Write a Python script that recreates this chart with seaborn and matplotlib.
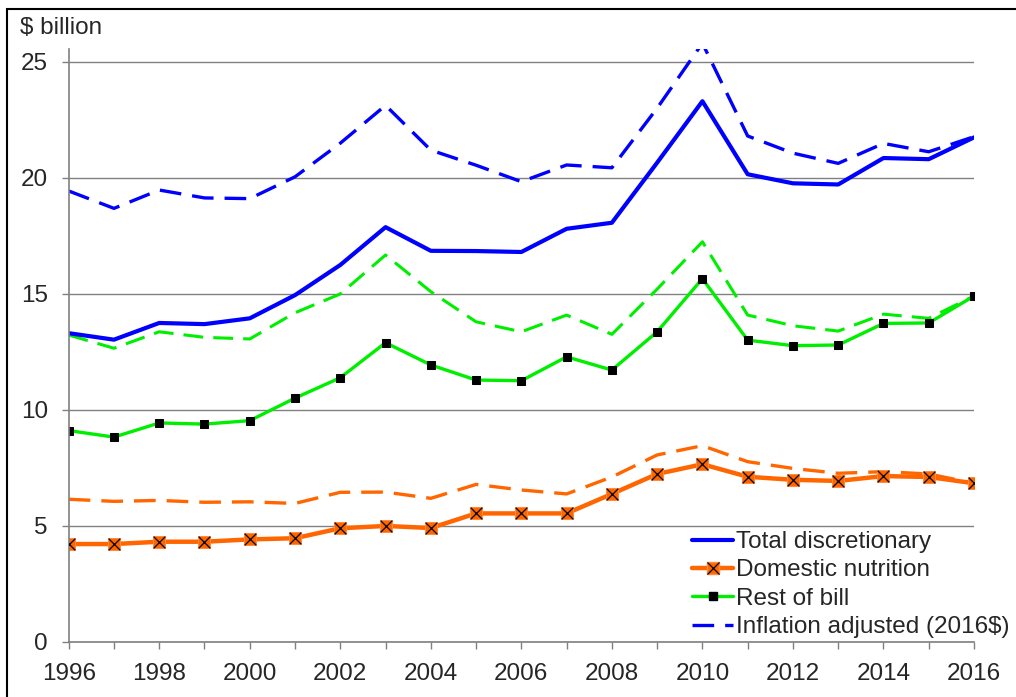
import numpy as np
import pandas as pd
import seaborn as sns
import matplotlib.pyplot as plt
from matplotlib.patches import Rectangle
from matplotlib.lines import Line2D
from matplotlib.legend_handler import HandlerTuple

years = list(range(1996, 2017))

total = [13.3, 13.02, 13.74, 13.69, 13.94, 14.94, 16.24, 17.87, 16.85, 16.84, 16.8,
         17.8, 18.06, 20.65, 23.3, 20.15, 19.76, 19.71, 20.85, 20.8, 21.74]
total_adj = [19.43, 18.68, 19.47, 19.13, 19.1, 20.04, 21.49, 23.12, 21.19, 20.54, 19.83,
             20.55, 20.43, 23.0, 25.8, 21.8, 21.06, 20.62, 21.48, 21.12, 21.77]
rest = [9.1, 8.82, 9.43, 9.38, 9.53, 10.5, 11.38, 12.89, 11.93, 11.28, 11.25,
        12.28, 11.71, 13.36, 15.65, 13.0, 12.76, 12.79, 13.72, 13.74, 14.9]
rest_adj = [13.22, 12.65, 13.36, 13.12, 13.05, 14.18, 14.99, 16.67, 15.09, 13.79, 13.36,
            14.08, 13.25, 15.2, 17.24, 14.08, 13.62, 13.39, 14.12, 13.94, 14.9]
nutrition = [4.21, 4.21, 4.31, 4.31, 4.41, 4.46, 4.89, 4.99, 4.9, 5.53, 5.53,
             5.53, 6.37, 7.23, 7.65, 7.11, 6.98, 6.93, 7.14, 7.1, 6.83]
nutrition_adj = [6.14, 6.05, 6.09, 6.01, 6.03, 5.96, 6.44, 6.45, 6.18, 6.78, 6.54,
                 6.37, 7.1, 8.05, 8.45, 7.76, 7.47, 7.26, 7.33, 7.23, 6.83]

labels = ['Total discretionary', 'Domestic nutrition', 'Rest of bill', 'Inflation adjusted (2016$)']

BLUE = '#0000FF'
ORANGE = '#FF6600'
GREEN = '#00EE00'
GRAY = '#808080'

sns.set_style('white')
plt.rcParams['font.family'] = ['Liberation Sans', 'DejaVu Sans']
plt.rcParams['font.size'] = 17

fig = plt.figure(figsize=(10.16, 6.97), dpi=100)
ax = fig.add_axes([68.7 / 1016, 1 - 641.7 / 697, (974 - 68.7) / 1016, (641.7 - 49) / 697])

dash = (0, (6.5, 3.3))

# inflation adjusted (dashed) lines first
sns.lineplot(x=years, y=total_adj, ax=ax, color=BLUE, lw=2.4, linestyle=dash)
sns.lineplot(x=years, y=rest_adj, ax=ax, color=GREEN, lw=2.2, linestyle=dash)
sns.lineplot(x=years, y=nutrition_adj, ax=ax, color=ORANGE, lw=2.4, linestyle=dash)

# nominal lines
sns.lineplot(x=years, y=total, ax=ax, color=BLUE, lw=3)
sns.lineplot(x=years, y=rest, ax=ax, color=GREEN, lw=2.4, marker='s', markersize=6,
             markerfacecolor='black', markeredgecolor='black')
sns.lineplot(x=years, y=nutrition, ax=ax, color=ORANGE, lw=3.2, marker='s', markersize=9,
             markerfacecolor=ORANGE, markeredgecolor='#FF8A40')
sns.scatterplot(x=years, y=nutrition, ax=ax, marker='x', s=70, color='black', linewidth=0.9, zorder=5)

ax.set_xlim(1996, 2016)
ax.set_ylim(0, 25.55)
ax.set_yticks([0, 5, 10, 15, 20, 25])
ax.set_xticks(range(1996, 2017, 2))
ax.set_xticks(years, minor=True)
ax.yaxis.grid(True, color=GRAY, lw=1)
ax.xaxis.grid(False)
ax.set_axisbelow(True)
for s in ['top', 'right']:
    ax.spines[s].set_visible(False)
for s in ['left', 'bottom']:
    ax.spines[s].set_color(GRAY)
    ax.spines[s].set_linewidth(1.2)
ax.tick_params(axis='y', which='major', left=True, length=5, width=1, color=GRAY, pad=10, labelsize=17.5)
ax.tick_params(axis='x', which='both', bottom=True, length=5, width=1, color=GRAY, pad=10, labelsize=17.5)
ax.set_xlabel('')
ax.set_ylabel('')

fig.text(20 / 1016, 1 - 28 / 697, '$ billion', fontsize=17.5, va='center', ha='left')

# legend
h_total = Line2D([], [], color=BLUE, lw=3)
h_nut = (Line2D([], [], color=ORANGE, lw=3.2, marker='s', markersize=9, mfc=ORANGE, mec='#FF8A40'),
         Line2D([], [], ls='none', marker='x', markersize=8, color='black', mew=0.9))
h_rest = Line2D([], [], color=GREEN, lw=2.4, marker='s', markersize=6, mfc='black', mec='black')
h_adj = Line2D([], [], color=BLUE, lw=2.4, linestyle=dash)
fig.legend([h_total, h_nut, h_rest, h_adj], labels, loc='upper left',
           bbox_to_anchor=(692 / 1016, 1 - 531 / 697), bbox_transform=fig.transFigure,
           frameon=False, fontsize=17.5, handlelength=1.7, handletextpad=0.12,
           labelspacing=0.26, borderpad=0, borderaxespad=0,
           handler_map={tuple: HandlerTuple(ndivide=1, pad=0)})

fig.patches.append(Rectangle((7 / 1016, -0.1), 1.2, 1.1 - 9 / 697, transform=fig.transFigure,
                             fill=False, edgecolor='black', lw=1.5))

fig.savefig('out.png', dpi=100)
